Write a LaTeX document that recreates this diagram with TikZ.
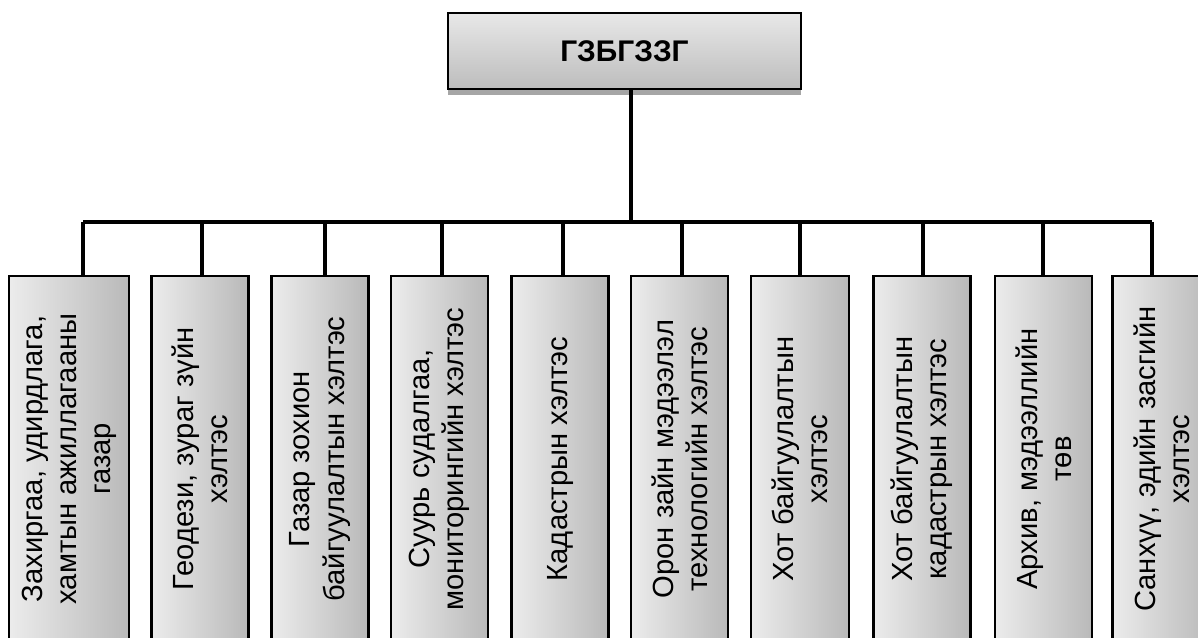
\documentclass[tikz,border=0pt]{standalone}
\usepackage{fontspec}
\setmainfont{Liberation Sans}
\usepackage{tikz}
\usetikzlibrary{shadows}
\usetikzlibrary{calc}

\tikzset{
    headbox/.style={draw, line width=1.4pt, top color=gray!18, bottom color=gray!52,
        minimum width=7.06cm, minimum height=1.52cm, inner sep=0pt,
        font=\fontsize{17}{20}\selectfont\bfseries,
        drop shadow={shadow xshift=0pt, shadow yshift=-3.2pt, fill=gray!70, opacity=1}},
    unitbox/.style={draw, line width=1.3pt, left color=gray!15, right color=gray!55,
        minimum height=7.32cm, inner sep=0pt},
    unittext/.style={rotate=90, align=center, font=\fontsize{16.6}{19.4}\selectfont},
    link/.style={line width=2pt}
}

\begin{document}
\begin{tikzpicture}[x=0.02cm, y=-0.02cm]
                \useasboundingbox (0,0) rectangle (1198,638);
                \clip (0,0) rectangle (1198,638);
                % head office
                \node[headbox] (head) at (624.5,51) {ГЗБГЗЗГ};
                \coordinate (jn) at (631,222);
                \coordinate (busL) at (83,222);
                \coordinate (busR) at (1152,222);
                \draw[link] (jn |- head.south) -- (jn);
                \draw[link] (busL) -- (busR);
                % departments
                \foreach \i/\cx/\dx/\w/\txt in {
                    1/69/83/2.40/{Захиргаа, удирдлага,\\хамтын ажиллагааны\\газар},
                    2/200/202/1.94/{Геодези, зураг зүйн\\хэлтэс},
                    3/320/325/1.94/{Газар зохион\\байгуулалтын хэлтэс},
                    4/439.5/442/1.94/{Суурь судалгаа,\\мониторингийн хэлтэс},
                    5/560/563/1.94/{Кадастрын хэлтэс},
                    6/679.5/682/1.94/{Орон зайн мэдээлэл\\технологийн хэлтэс},
                    7/800/800/1.96/{Хот байгуулалтын\\хэлтэс},
                    8/922/923/1.94/{Хот байгуулалтын\\кадастрын хэлтэс},
                    9/1043.5/1043/1.94/{Архив, мэдээллийн\\төв},
                    10/1161.5/1152/1.96/{Санхүү, эдийн засгийн\\хэлтэс}}
                {
                    \node[unitbox, minimum width=\w cm] (u\i) at (\cx,459) {};
                    \node[unittext] (t\i) at (u\i) {\txt};
                    \coordinate (d\i) at (\dx,222);
                    \draw[link] (d\i) -- (d\i |- u\i.north);
                }
            \end{tikzpicture}
\end{document}
